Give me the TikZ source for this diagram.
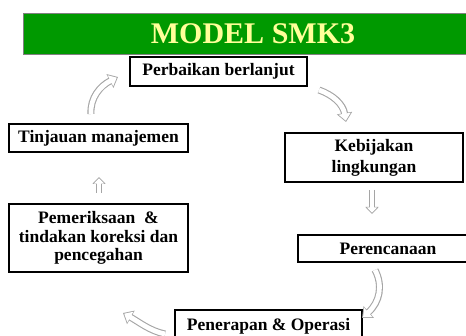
\documentclass[tikz,border=0pt]{standalone}
\usepackage{fontspec}
\setmainfont{Liberation Serif}
\usetikzlibrary{arrows.meta}
\definecolor{bannergreen}{RGB}{0,153,0}
\definecolor{titleyellow}{RGB}{255,255,153}
\definecolor{arrowgray}{RGB}{165,165,165}
\tikzset{
  box/.style={draw=black, line width=1.3pt, fill=white, rectangle, inner sep=0pt,
    align=center, font=\fontsize{17.5}{19}\selectfont\bfseries},
  bandarrow outer/.style={line width=7pt, draw=arrowgray,
    -{Triangle[length=9pt,width=15pt]}},
  bandarrow inner/.style={line width=4.8pt, draw=white, shorten >=1.4pt,
    -{Triangle[length=7pt,width=11.8pt]}},
  smallarrow outer/.style={line width=6.4pt, draw=arrowgray,
    -{Triangle[length=7pt,width=13pt]}},
  smallarrow inner/.style={line width=4.4pt, draw=white, shorten >=1.3pt,
    -{Triangle[length=5.4pt,width=10pt]}}
}
\begin{document}
\begin{tikzpicture}[x=1pt,y=-1pt]
\useasboundingbox (0,0) rectangle (466,336);
\clip (0,0) rectangle (466,336);
\fill[white] (0,0) rectangle (466,336);

% banner
\node[draw=gray, line width=0.6pt, fill=bannergreen, minimum width=460pt, minimum height=41pt,
  inner sep=0pt, text=titleyellow, font=\fontsize{30}{32}\selectfont\bfseries]
  (title) at (253,33.5) {MODEL SMK3};

% boxes
\node[box, minimum width=177pt, minimum height=29pt] (perb) at (218.5,71.5) {Perbaikan berlanjut};
\node[box, minimum width=179pt, minimum height=28pt] (tinj) at (98.5,138) {Tinjauan manajemen};
\node[box, minimum width=178pt, minimum height=49pt] (kebi) at (374,157.5) {Kebijakan\\[2pt]lingkungan};
\node[box, minimum width=179pt, minimum height=68pt] (pemer) at (98.5,238) {Pemeriksaan \ \&\\[-0.5pt]tindakan koreksi dan\\[-0.5pt]pencegahan};
\node[box, minimum width=180pt, minimum height=27pt] (peren) at (388,248.5) {Perencanaan};
\node[box, minimum width=187pt, minimum height=32pt] (pener) at (268.5,326) {Penerapan \& Operasi};

% arrow end points
\coordinate (a1s) at (91,114);  \coordinate (a1e) at (118,77);
\coordinate (a2s) at (319,90);  \coordinate (a2e) at (346,122);
\coordinate (a3s) at (375,270); \coordinate (a3e) at (362,318);
\coordinate (a4s) at (165,334); \coordinate (a4e) at (123,313);
\coordinate (a5s) at (99,193);  \coordinate (a5e) at (99,177);
\coordinate (a6s) at (372,190); \coordinate (a6e) at (372,214);

% curved block arrows
\foreach \st in {bandarrow outer, bandarrow inner}{
  \draw[\st] (a1s) .. controls (90,98) and (100,86) .. (a1e);
  \draw[\st] (a2s) .. controls (333,95) and (343,104) .. (a2e);
  \draw[\st] (a3s) .. controls (383,285) and (380,302) .. (a3e);
  \draw[\st] (a4s) .. controls (150,331) and (139,322) .. (a4e);
}
% straight small block arrows
\foreach \st in {smallarrow outer, smallarrow inner}{
  \draw[\st] (a5s) -- (a5e);
  \draw[\st] (a6s) -- (a6e);
}
\end{tikzpicture}
\end{document}
